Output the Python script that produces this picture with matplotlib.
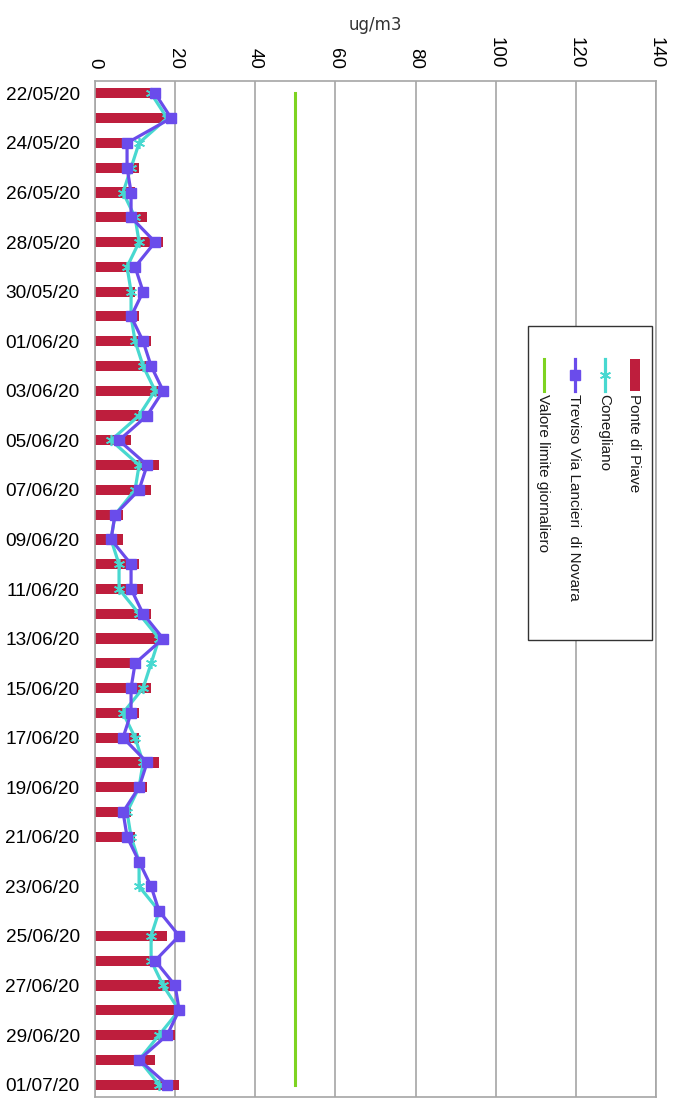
import numpy as np
import pandas as pd
import matplotlib
matplotlib.use("Agg")
import matplotlib.pyplot as plt
from matplotlib.patches import Rectangle
from matplotlib.lines import Line2D

# daily PM10 values, 22/05/2020 - 01/07/2020
dates = pd.date_range("2020-05-22", "2020-07-01", freq="D")
date_labels = [d.strftime("%d/%m/%y") for d in dates]

ponte_di_piave = [16, 20, 7, 11, 10, 13, 17, 9, 10, 11,
                  14, 15, 18, 11, 9, 16, 14, 7, 7, 11,
                  12, 14, 16, 11, 14, 11, 11, 16, 13, 9,
                  10, np.nan, np.nan, np.nan, 18, 14, 20, 20, 20, 15,
                  21]
conegliano = [14, 18, 11, 9, 7, 10, 11, 8, 9, 9,
              10, 12, 15, 11, 4, 11, 10, 5, 4, 6,
              6, 11, 16, 14, 12, 7, 10, 12, 11, 8,
              9, 11, 11, 16, 14, 14, 17, 21, 16, 11,
              16]
treviso = [15, 19, 8, 8, 9, 9, 15, 10, 12, 9,
           12, 14, 17, 13, 6, 13, 11, 5, 4, 9,
           9, 12, 17, 10, 9, 9, 7, 13, 11, 7,
           8, 11, 14, 16, 21, 15, 20, 21, 18, 11,
           18]
limite = [50] * len(dates)

series_names = ["Ponte di Piave", "Conegliano",
                "Treviso Via Lancieri  di Novara", "Valore limite giornaliero"]

c_bar = "#BE1E3D"
c_cone = "#48D8D0"
c_trev = "#6A4CEB"
c_lim = "#7ED321"

W, H = 673, 1102
fig = plt.figure(figsize=(W / 100, H / 100), dpi=100)
ax = fig.add_axes([95 / W, 1 - 1097 / H, (656 - 95) / W, (1097 - 81) / H])

y = np.arange(len(dates))
ax.barh(y, ponte_di_piave, height=0.41, color=c_bar, zorder=2)
ax.plot(conegliano, y, color=c_cone, lw=2.3, marker=(6, 2, 0), ms=8,
        mew=1.2, zorder=3)
ax.plot(treviso, y, color=c_trev, lw=2.3, marker="s", ms=6.5, zorder=4)
ax.plot(limite, y, color=c_lim, lw=2.2, zorder=3)

ax.set_xlim(0, 140)
ax.set_ylim(len(dates) - 0.5, -0.5)
ax.set_xticks(range(0, 141, 20))
ax.xaxis.tick_top()
ax.tick_params(axis="x", length=0, pad=9, labelsize=13.5, rotation=-90)
for lab in ax.get_xticklabels():
    lab.set_fontfamily("Liberation Sans")
ax.xaxis.set_label_position("top")
ax.set_xlabel("ug/m3", fontsize=12, labelpad=5, color="#333333")

ax.set_yticks(y[::2])
ax.set_yticklabels(date_labels[::2], fontsize=13.7, family="Liberation Sans")
ax.tick_params(axis="y", length=0, pad=11)

ax.grid(axis="x", color="#A6A6A6", lw=1.2, zorder=0)
for s in ax.spines.values():
    s.set_color("#A6A6A6")
    s.set_linewidth(1.2)


def fx(px):
    return px / W


def fy(py):
    return 1 - py / H


# legend box with vertical entries
fig.add_artist(Rectangle((fx(528), fy(640)), fx(652) - fx(528), fy(326) - fy(640),
                         transform=fig.transFigure, facecolor="white",
                         edgecolor="#333333", lw=1.0, zorder=10))
hx = [634, 604, 574, 543]
fig.add_artist(Rectangle((fx(630), fy(391)), fx(10), fy(359) - fy(391),
                         transform=fig.transFigure, facecolor=c_bar,
                         edgecolor="none", zorder=11))
fig.add_artist(Line2D([fx(605), fx(605)], [fy(359), fy(391)], color=c_cone, lw=2.3,
                      transform=fig.transFigure, zorder=11))
fig.add_artist(Line2D([fx(605)], [fy(375)], color=c_cone, marker=(6, 2, 0), ms=8,
                      mew=1.2, transform=fig.transFigure, zorder=11))
fig.add_artist(Line2D([fx(575), fx(575)], [fy(359), fy(391)], color=c_trev, lw=2.3,
                      transform=fig.transFigure, zorder=11))
fig.add_artist(Line2D([fx(575)], [fy(375)], color=c_trev, marker="s", ms=6.5,
                      transform=fig.transFigure, zorder=11))
fig.add_artist(Line2D([fx(544), fx(544)], [fy(359), fy(391)], color=c_lim, lw=2.2,
                      transform=fig.transFigure, zorder=11))
for x0, name in zip(hx, series_names):
    fig.text(fx(x0), fy(394), name, rotation=-90, rotation_mode="anchor",
             ha="left", va="center", fontsize=11, family="Liberation Sans",
             color="#1a1a1a", zorder=12)

fig.savefig("out.png", dpi=100)
